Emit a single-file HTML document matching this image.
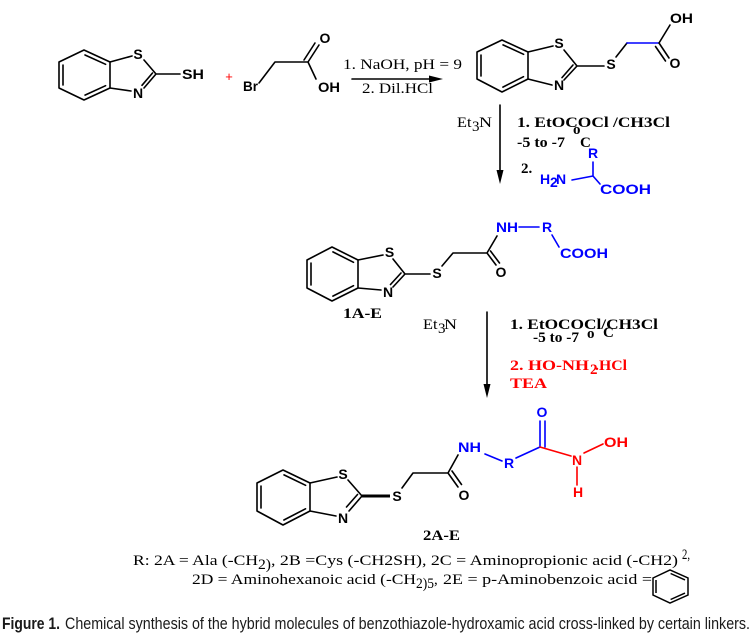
<!DOCTYPE html>
<html><head><meta charset="utf-8">
<style>
html,body{margin:0;padding:0;background:#fff;}
svg{display:block;}
.b{stroke:#000;stroke-width:1.6;fill:none;stroke-linecap:round;stroke-linejoin:round}
.bl{stroke:#0000ff;stroke-width:1.6;fill:none;stroke-linecap:round}
.rd{stroke:#ff0000;stroke-width:1.6;fill:none;stroke-linecap:round}
.lab{font-family:"Liberation Sans",Arial,sans-serif;font-weight:bold;font-size:14px;}
.tm{font-family:"Liberation Serif","Times New Roman",serif;font-size:15px;}
.tb{font-family:"Liberation Serif","Times New Roman",serif;font-size:15px;font-weight:bold;}
.cap{font-family:"Liberation Sans",Arial,sans-serif;font-size:16.5px;fill:#1a1a1a;}
</style></head><body>
<svg width="751" height="638" viewBox="0 0 751 638" xmlns="http://www.w3.org/2000/svg">
<rect width="751" height="638" fill="#fff"/>

<!-- Molecule A: 2-mercaptobenzothiazole -->
<path class="b" d="M59,62 L84,50 L110,62 L110,88 L84,100 L59,88 Z"/>
<path class="b" d="M63,65 L63,85 M85,55 L105.6,64.3 M85,95.1 L105.6,85.7"/>
<path class="b" d="M110,62 L132,56 M144,60 L156,74 M156,74 L144,88 M152.5,73 L142,85.3 M131,91 L110,88 M156,74 L180,74"/>
<text class="lab" x="138" y="59" text-anchor="middle">S</text>
<text class="lab" x="138" y="98" text-anchor="middle">N</text>
<text class="lab" x="182" y="79" textLength="22" lengthAdjust="spacingAndGlyphs">SH</text>
<text x="229" y="81" fill="#ff0000" font-size="13" text-anchor="middle" font-family="Liberation Sans, sans-serif">+</text>

<!-- Bromoacetic acid -->
<path class="b" d="M259,83 L275,62 L308,62 M308,62 L319,45 M304,60 L315,43 M308,62 L316,79"/>
<text class="lab" x="243" y="91" textLength="15" lengthAdjust="spacingAndGlyphs">Br</text>
<text class="lab" x="325" y="43" text-anchor="middle">O</text>
<text class="lab" x="318" y="92" textLength="22" lengthAdjust="spacingAndGlyphs">OH</text>

<!-- Horizontal arrow -->
<path class="b" d="M352,79 L432,79"/>
<polygon points="443,79 429,75.5 429,82.5" fill="#000"/>
<text class="tm" x="343" y="69" textLength="119" lengthAdjust="spacingAndGlyphs">1. NaOH, pH = 9</text>
<text class="tm" x="362" y="93" textLength="71" lengthAdjust="spacingAndGlyphs">2. Dil.HCl</text>

<!-- Molecule B -->
<path class="b" d="M477,52 L502,40 L528,52 L528,79 L502,92 L477,79 Z"/>
<path class="b" d="M481,55 L481,76 M503,44.9 L523.6,54.3 M502.9,87.1 L523.5,76.7"/>
<path class="b" d="M528,52 L553,46 M564,50 L577,66 M577,66 L564,80 M573,65 L562,77.6 M552,85 L528,79 M577,66 L604,66 M616,57 L627,43"/>
<path class="bl" d="M627,43 L659,43"/>
<path class="b" d="M659,43 L670,25 M659,43 L669,58 M655.5,46.5 L665.5,61"/>
<text class="lab" x="559" y="48" text-anchor="middle">S</text>
<text class="lab" x="559" y="90" text-anchor="middle">N</text>
<text class="lab" x="611" y="69" text-anchor="middle">S</text>
<text class="lab" x="670" y="23" textLength="23" lengthAdjust="spacingAndGlyphs">OH</text>
<text class="lab" x="675" y="68" text-anchor="middle">O</text>

<!-- Vertical arrow 1 -->
<path class="b" d="M500,105 L500,173"/>
<polygon points="500,184 496.5,170 503.5,170" fill="#000"/>
<text class="tm" x="457" y="127" textLength="14.5" lengthAdjust="spacingAndGlyphs">Et</text>
<text class="tm" x="472" y="131" font-size="10">3</text>
<text class="tm" x="479" y="127" textLength="13" lengthAdjust="spacingAndGlyphs">N</text>
<text class="tb" x="517" y="127" textLength="153" lengthAdjust="spacingAndGlyphs">1. EtOCOCl /CH3Cl</text>
<text class="tb" x="517" y="147" textLength="48" lengthAdjust="spacingAndGlyphs">-5 to -7</text>
<text class="tb" x="573" y="134" font-size="10">o</text>
<text class="tb" x="580" y="147">C</text>
<text class="tb" x="521" y="173">2.</text>
<!-- amino acid -->
<path class="bl" d="M572,180 L593,176 M593,176 L593,162 M593,176 L600,184"/>
<text class="lab" x="593" y="158" text-anchor="middle" fill="#0000ff">R</text>
<text class="lab" x="540" y="184" fill="#0000ff">H</text>
<text class="lab" x="550" y="187" font-size="10" fill="#0000ff">2</text>
<text class="lab" x="556" y="184" fill="#0000ff">N</text>
<text class="lab" x="600" y="194" textLength="51" lengthAdjust="spacingAndGlyphs" fill="#0000ff">COOH</text>

<!-- Molecule C: 1A-E -->
<path class="b" d="M307,260 L332,247 L358,260 L358,288 L332,301 L307,288 Z"/>
<path class="b" d="M311,263 L311,285 M332.9,251.9 L353.5,262.3 M332.9,296.1 L353.5,285.7"/>
<path class="b" d="M358,260 L383,255 M393,259 L405,274 M405,274 L393,287 M401,273 L390.5,284.5 M381,290 L358,288 M405,274 L430,274 M442,266 L453,253 L487,253 M487,253 L496,265 M490.5,251 L499.5,263 M487,253 L497,236"/>
<path class="bl" d="M519,227 L539,227 M552,235 L559,247"/>
<text class="lab" x="389.5" y="257" text-anchor="middle">S</text>
<text class="lab" x="388" y="297" text-anchor="middle">N</text>
<text class="lab" x="437" y="278" text-anchor="middle">S</text>
<text class="lab" x="501" y="277" text-anchor="middle">O</text>
<text class="lab" x="496" y="232" textLength="22" lengthAdjust="spacingAndGlyphs" fill="#0000ff">NH</text>
<text class="lab" x="547" y="232" text-anchor="middle" fill="#0000ff">R</text>
<text class="lab" x="560" y="258" textLength="48" lengthAdjust="spacingAndGlyphs" fill="#0000ff">COOH</text>
<text class="tb" x="343" y="318" textLength="39" lengthAdjust="spacingAndGlyphs">1A-E</text>

<!-- Vertical arrow 2 -->
<path class="b" d="M487,312 L487,386"/>
<polygon points="487,398 483.5,384 490.5,384" fill="#000"/>
<text class="tm" x="423" y="329" textLength="14.5" lengthAdjust="spacingAndGlyphs">Et</text>
<text class="tm" x="438" y="333" font-size="10">3</text>
<text class="tm" x="444" y="329" textLength="13" lengthAdjust="spacingAndGlyphs">N</text>
<text class="tb" x="510" y="329" textLength="148" lengthAdjust="spacingAndGlyphs">1. EtOCOCl/CH3Cl</text>
<text class="tb" x="533" y="342" textLength="46" lengthAdjust="spacingAndGlyphs">-5 to -7</text>
<text class="tb" x="587" y="338" font-size="10">o</text>
<text class="tb" x="603" y="337">C</text>
<text class="tb" x="510" y="370" textLength="79" lengthAdjust="spacingAndGlyphs" fill="#ff0000">2. HO-NH</text>
<text class="tb" x="590" y="374" font-size="10" fill="#ff0000">2</text>
<text class="tb" x="595" y="370" textLength="32" lengthAdjust="spacingAndGlyphs" fill="#ff0000">.HCl</text>
<text class="tb" x="510" y="388" textLength="37" lengthAdjust="spacingAndGlyphs" fill="#ff0000">TEA</text>

<!-- Molecule D: 2A-E -->
<path class="b" d="M257,483 L283,470 L310,483 L310,511 L283,525 L257,511 Z"/>
<path class="b" d="M261,486 L261,508 M284,474.9 L305.6,485.3 M283.9,520 L305.5,508.8"/>
<path class="b" d="M310,483 L337,477 M348,480 L362,496 M362,496 L349,511 M357.5,494.5 L346.5,507 M336,516 L310,511 M402,488 L413,473 L448,473 M448,473 L458,487 M452,471 L461.5,484.5 M448,473 L458,455"/>
<path d="M362,496 L390,496" stroke="#000" stroke-width="3" fill="none"/>
<path class="bl" d="M485,454 L502,461 M516,458 L540,447 M540,447 L540,421 M545,447 L545,421"/>
<path class="rd" d="M540,447 L571,456 M584,453 L603,444 M577,467 L577,485"/>
<text class="lab" x="343" y="479" text-anchor="middle">S</text>
<text class="lab" x="343" y="523" text-anchor="middle">N</text>
<text class="lab" x="397" y="501" text-anchor="middle">S</text>
<text class="lab" x="464" y="500" text-anchor="middle">O</text>
<text class="lab" x="458" y="452" textLength="23" lengthAdjust="spacingAndGlyphs" fill="#0000ff">NH</text>
<text class="lab" x="509" y="468" text-anchor="middle" fill="#0000ff">R</text>
<text class="lab" x="542" y="417" text-anchor="middle" fill="#0000ff">O</text>
<text class="lab" x="577" y="465" text-anchor="middle" fill="#ff0000">N</text>
<text class="lab" x="604" y="447" textLength="24" lengthAdjust="spacingAndGlyphs" fill="#ff0000">OH</text>
<text class="lab" x="578" y="497" text-anchor="middle" fill="#ff0000">H</text>
<text class="tb" x="423" y="540" textLength="37" lengthAdjust="spacingAndGlyphs">2A-E</text>

<!-- R definitions -->
<text class="tm" font-size="16" x="133" y="565" textLength="125" lengthAdjust="spacingAndGlyphs">R: 2A = Ala (-CH</text>
<text class="tm" font-size="12" x="258" y="569" textLength="13" lengthAdjust="spacingAndGlyphs">2)</text>
<text class="tm" font-size="16" x="271" y="565" textLength="407" lengthAdjust="spacingAndGlyphs">,  2B =Cys (-CH2SH),  2C = Aminopropionic acid (-CH2)</text>
<text class="tm" font-size="11" x="682" y="559" textLength="8" lengthAdjust="spacingAndGlyphs">2,</text>

<text class="tm" font-size="16" x="192" y="584" textLength="224" lengthAdjust="spacingAndGlyphs">2D = Aminohexanoic acid (-CH</text>
<text class="tm" font-size="12" x="416" y="588" textLength="18" lengthAdjust="spacingAndGlyphs">2)5</text>
<text class="tm" font-size="16" x="434" y="584">,</text>
<text class="tm" font-size="16" x="443" y="584" textLength="209" lengthAdjust="spacingAndGlyphs">2E = p-Aminobenzoic acid =</text>
<path d="M653,578 L670,570 L688,578 L688,595 L670,603 L653,595 Z" stroke="#000" stroke-width="1.5" fill="none"/>
<path d="M656,580 L656,593 M670.6,573.5 L685,579.9 M670.6,599.5 L685,593.1" stroke="#000" stroke-width="1.5" fill="none"/>

<!-- Caption -->
<text class="cap" x="2" y="629" font-weight="bold" textLength="58" lengthAdjust="spacingAndGlyphs">Figure 1.</text>
<text class="cap" x="65" y="629" textLength="685" lengthAdjust="spacingAndGlyphs">Chemical synthesis of the hybrid molecules of benzothiazole-hydroxamic acid cross-linked by certain linkers.</text>
</svg>
</body></html>
